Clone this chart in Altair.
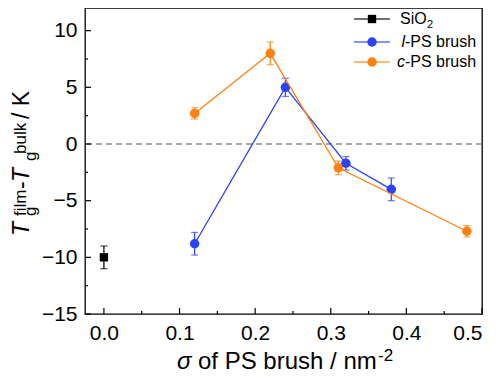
import altair as alt
import pandas as pd

# ---- data ----
sio2_x = [0.0]
sio2_y = [-10.0]
sio2_err = [1.0]

lps_x = [0.12, 0.24, 0.32, 0.38]
lps_y = [-8.8, 5.0, -1.7, -4.0]
lps_err = [1.0, 0.8, 0.6, 1.0]

cps_x = [0.12, 0.22, 0.31, 0.48]
cps_y = [2.7, 8.0, -2.1, -7.7]
cps_err = [0.5, 1.0, 0.6, 0.5]

x_major = [0.0, 0.1, 0.2, 0.3, 0.4, 0.5]
x_minor = [0.05, 0.15, 0.25, 0.35, 0.45]
y_major = [-15, -10, -5, 0, 5, 10]
y_minor = [-12.5, -7.5, -2.5, 2.5, 7.5]
ref_line = [0]

BLACK = "#000000"
BLUE = "#2A43F5"
ORANGE = "#FF8012"
FONT = "Liberation Sans"
W, H = 397, 306


def frame(xs, ys, es):
    return pd.DataFrame({
        "x": xs, "y": ys,
        "lo": [a - b for a, b in zip(ys, es)],
        "hi": [a + b for a, b in zip(ys, es)],
    })


d_sio2 = frame(sio2_x, sio2_y, sio2_err)
d_l = frame(lps_x, lps_y, lps_err)
d_c = frame(cps_x, cps_y, cps_err)

xs = alt.Scale(domain=[-0.025, 0.5], nice=False, zero=False)
ys = alt.Scale(domain=[-15, 12], nice=False, zero=False)

X = alt.X("x:Q", scale=xs, title=None,
          axis=alt.Axis(values=x_major, format=".1f", ticks=False, tickSize=0,
                        domain=False, grid=False, labelFontSize=21,
                        labelFont=FONT, labelColor=BLACK, labelPadding=8))
Y = alt.Y("y:Q", scale=ys, title=None,
          axis=alt.Axis(values=y_major, format="d", ticks=False, tickSize=0,
                        domain=False, grid=False, labelFontSize=21,
                        labelFont=FONT, labelColor=BLACK, labelPadding=8))

layers = []

# zero reference line
layers.append(
    alt.Chart(pd.DataFrame({"y": ref_line})).mark_rule(
        color="#8a8a8a", strokeDash=[6, 4], strokeWidth=1.3
    ).encode(y=Y)
)

# inward ticks
layers.append(alt.Chart(pd.DataFrame({"x": x_major})).mark_rule(color=BLACK, strokeWidth=1.2)
              .encode(x=X, y=alt.value(H), y2=alt.value(H - 6)))
layers.append(alt.Chart(pd.DataFrame({"x": x_minor})).mark_rule(color=BLACK, strokeWidth=1.2)
              .encode(x=X, y=alt.value(H), y2=alt.value(H - 3)))
layers.append(alt.Chart(pd.DataFrame({"y": y_major})).mark_rule(color=BLACK, strokeWidth=1.2)
              .encode(y=Y, x=alt.value(0), x2=alt.value(6)))
layers.append(alt.Chart(pd.DataFrame({"y": y_minor})).mark_rule(color=BLACK, strokeWidth=1.2)
              .encode(y=Y, x=alt.value(0), x2=alt.value(3)))

# series
for d, col, shape in [(d_l, BLUE, "circle"), (d_c, ORANGE, "circle"), (d_sio2, BLACK, "square")]:
    base = alt.Chart(d)
    if len(d) > 1:
        layers.append(base.mark_line(color=col, strokeWidth=1.3).encode(x=X, y=Y))
    layers.append(base.mark_rule(color=col, strokeWidth=1.2)
                  .encode(x=X, y=alt.Y("lo:Q", scale=ys), y2="hi:Q"))
    layers.append(base.mark_tick(color=col, size=7, thickness=1.2, orient="horizontal")
                  .encode(x=X, y=alt.Y("lo:Q", scale=ys)))
    layers.append(base.mark_tick(color=col, size=7, thickness=1.2, orient="horizontal")
                  .encode(x=X, y=alt.Y("hi:Q", scale=ys)))
    if shape == "circle":
        layers.append(base.mark_circle(color=col, size=90, opacity=1).encode(x=X, y=Y))
    else:
        layers.append(base.mark_point(shape="square", filled=True, color=col, size=70, opacity=1)
                      .encode(x=X, y=Y))

one = pd.DataFrame({"k": [0]})


def txt(s, x, y, size, angle=0, italic=False, align="left", baseline="alphabetic"):
    kw = dict(text=s, fontSize=size, font=FONT, color=BLACK, align=align, baseline=baseline)
    if angle:
        kw["angle"] = angle
    if italic:
        kw["fontStyle"] = "italic"
    return alt.Chart(one).mark_text(**kw).encode(x=alt.value(x), y=alt.value(y))


# legend
leg_rows = [(11, BLACK, "square"), (34, BLUE, "circle"), (54, ORANGE, "circle")]
for yy, col, shp in leg_rows:
    layers.append(alt.Chart(one).mark_rule(color=col, strokeWidth=1.5, opacity=0.75)
                  .encode(x=alt.value(269), x2=alt.value(305), y=alt.value(yy)))
    if shp == "circle":
        layers.append(alt.Chart(one).mark_circle(color=col, size=90, opacity=1)
                      .encode(x=alt.value(287), y=alt.value(yy)))
    else:
        layers.append(alt.Chart(one).mark_point(shape="square", filled=True, color=col, size=70, opacity=1)
                      .encode(x=alt.value(287), y=alt.value(yy)))

layers.append(txt("SiO", 315, 11, 16, baseline="middle"))
layers.append(txt("2", 342, 17, 11, baseline="middle"))
layers.append(txt("l", 320, 34, 16, italic=True, align="right", baseline="middle"))
layers.append(txt("-PS brush", 320, 34, 16, baseline="middle"))
layers.append(txt("c", 320, 54, 16, italic=True, align="right", baseline="middle"))
layers.append(txt("-PS brush", 320, 54, 16, baseline="middle"))

# x title
layers.append(txt("σ", 92, 361, 24, italic=True))
layers.append(txt("of PS brush / nm", 113, 361, 24))
layers.append(txt("-2", 293, 353, 17))

# y title (rotated)
layers.append(txt("T", -56, 228, 23, angle=270, italic=True))
layers.append(txt("g", -49, 208, 17, angle=270))
layers.append(txt("film", -59, 208, 17, angle=270))
layers.append(txt("-", -56, 181, 23, angle=270))
layers.append(txt("T", -56, 174, 23, angle=270, italic=True))
layers.append(txt("g", -49, 153, 17, angle=270))
layers.append(txt("bulk", -59, 146, 17, angle=270))
layers.append(txt("/ K", -56, 111, 23, angle=270))

chart = alt.layer(*layers).properties(
    width=W, height=H,
    autosize=alt.AutoSizeParams(type="none"),
    padding={"left": 77, "top": 0, "right": 10, "bottom": 59},
    background="white",
).configure_view(stroke=BLACK, strokeWidth=1.3)

chart.save("out.html", embed_options={"renderer": "svg", "actions": False})
